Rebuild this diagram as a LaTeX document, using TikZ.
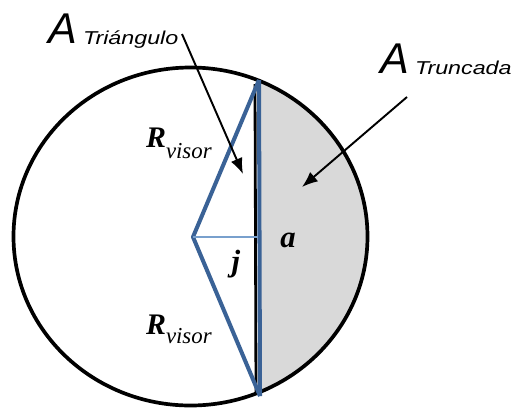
\documentclass[tikz,border=0pt]{standalone}
\usepackage{fontspec}
\usetikzlibrary{arrows.meta}
\newfontfamily\bigsans{Liberation Sans}
\newfontfamily\subsans[FakeStretch=1.25]{Liberation Sans}
\newfontfamily\serifbi{Liberation Serif}
\definecolor{visorblue}{RGB}{58,98,150}
\definecolor{lightblue}{RGB}{120,160,205}
\definecolor{segfill}{RGB}{217,217,217}
\tikzset{
  lbl/.style={inner sep=0pt, outer sep=0pt, anchor=base west},
  bigA/.style={lbl, font=\bigsans\itshape\fontsize{24.5}{26}\selectfont},
  subA/.style={lbl, font=\subsans\itshape\fontsize{10.6}{12}\selectfont},
  Rlbl/.style={lbl, font=\serifbi\bfseries\itshape\fontsize{17}{18}\selectfont},
  vis/.style={lbl, font=\serifbi\itshape\fontsize{13}{14}\selectfont},
  var/.style={inner sep=0pt, outer sep=0pt, anchor=base, font=\serifbi\bfseries\itshape\fontsize{17.5}{18}\selectfont},
  bluel/.style={draw=visorblue, line width=2.3pt},
  pointer/.style={draw=black, line width=1.1pt, -{Latex[length=9pt,width=7pt]}},
}
\begin{document}
\begin{tikzpicture}[x=0.02cm, y=-0.02cm]
\useasboundingbox (0,0) rectangle (517,410);
% truncated segment
\begin{scope}
  \clip (259,0) rectangle (420,420);
  \fill[segfill] (190.5,236.5) ellipse [x radius=177, y radius=169];
\end{scope}
% circle
\draw[line width=2.1pt] (190.5,236.5) ellipse [x radius=177, y radius=169];
% points
\coordinate (top) at (259,80);
\coordinate (bot) at (260,396);
\coordinate (apex) at (193,237);
\coordinate (foot) at (258,237);
\coordinate (ktop) at (255,84);
\coordinate (kbot) at (256,392);
% chord: black then blue
\draw[line width=1.6pt] (ktop) -- (kbot);
\path[bluel] (top) -- (bot);
% triangle sides
\path[bluel, line join=round] (top) -- (apex) -- (bot);
% j line
\draw[lightblue, line width=1.1pt] (apex) -- (foot);
% labels
\node[bigA] (A1) at (48,43) {A};
\node[subA] (tri) at (83,44) {Triángulo};
\node[bigA] (A2) at (380,73) {A};
\node[subA] (trunc) at (415,74) {Truncada};
\node[Rlbl] (R1) at (146,147) {R};
\node[vis] (v1) at (166,158) {visor};
\node[Rlbl] (R2) at (146,334) {R};
\node[vis] (v2) at (166,343) {visor};
\node[var] (j) at (236,271) {j};
\node[var] (a) at (288,247) {a};
% pointers
\coordinate (p1s) at (182,34);
\coordinate (p1e) at (243,174);
\coordinate (p2s) at (407,97);
\coordinate (p2e) at (302,187);
\draw[pointer] (p1s) -- (p1e);
\draw[pointer] (p2s) -- (p2e);
\end{tikzpicture}
\end{document}
